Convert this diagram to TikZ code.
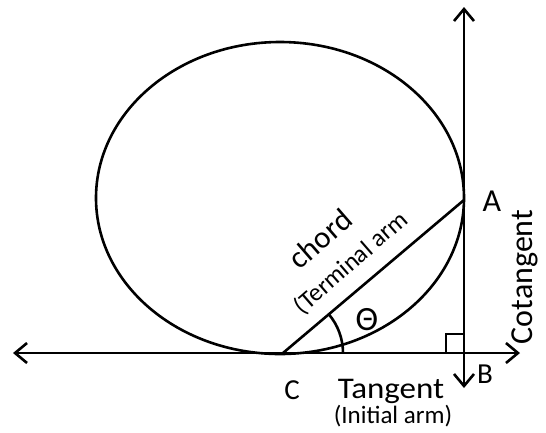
\documentclass[tikz,border=0pt]{standalone}
\usepackage{fontspec}
\setmainfont{Carlito}
\usetikzlibrary{arrows.meta,calc}
\tikzset{
  ln/.style={line width=2.6pt, black},
  tip/.style={{Straight Barb[length=12pt,width=20pt]}-{Straight Barb[length=12pt,width=20pt]}},
  lbl/.style={inner sep=0pt},
}
\newcommand{\fs}[1]{\fontsize{#1}{#1}\selectfont}
\begin{document}
\begin{tikzpicture}[x=1pt,y=-1pt]
\useasboundingbox (0,0) rectangle (546,432);
\coordinate (E) at (280,198);
\coordinate (C) at (283,353);
\coordinate (A) at (464,200);
\coordinate (L) at (13,353);
\coordinate (R) at (520,353);
\coordinate (T) at (464,7);
\coordinate (D) at (464,388);
\draw[ln] (E) ellipse [x radius=184, y radius=156];
\draw[ln,tip] (L) -- (R);
\draw[ln,tip] (T) -- (D);
\draw[ln] (C) -- (A);
\draw[ln] ($(C)+(60,0)$) arc[start angle=0, end angle=-40.4, radius=60];
\draw[ln,line width=2.2pt] (446,353) -- (446,334) -- (464,334);
\node[lbl,font=\fs{32}] (nA) at (492,201) {A};
\node[lbl,font=\fs{29}] (nB) at (485,374) {B};
\node[lbl,font=\fs{29}] (nC) at (292,390) {C};
\node[lbl,font=\fs{30},anchor=base,xscale=1.1] (nT) at (391,398) {Tangent};
\node[lbl,font=\fs{25},anchor=base] (nI) at (393,423) {(Initial arm)};
\node[lbl,font=\fs{32},rotate=90] (nCo) at (525,277) {Cotangent};
\node[lbl,font=\fs{31},rotate=41] (nch) at (320,239) {chord};
\node[lbl,font=\fs{25},rotate=41] (nte) at (351,263) {(Terminal arm};
\node[lbl,font=\fs{34}] (nth) at (367,320) {Θ};
\end{tikzpicture}
\end{document}
